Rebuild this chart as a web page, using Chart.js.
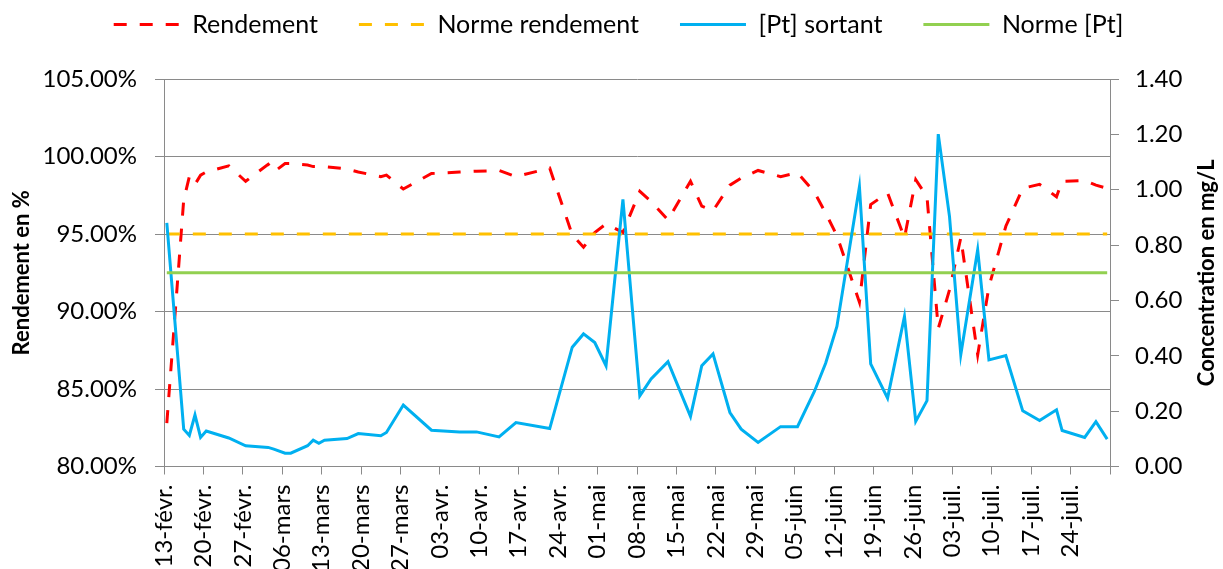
<!DOCTYPE html>
<html>
<head>
<meta charset="utf-8">
<script src="https://cdn.jsdelivr.net/npm/chart.js@4.4.1/dist/chart.umd.min.js"></script>
<style>
  html, body { margin: 0; padding: 0; background: #fff; }
  #wrap { position: relative; width: 1223px; height: 569px; overflow: hidden; }
  #chart { position: absolute; left: 0; top: -29px; }
</style>
</head>
<body>
<div id="wrap"><canvas id="chart" width="1223" height="598"></canvas></div>
<script>
// sample dates (dd/mm) and measurements
const dates = [
  "13/02", "16/02", "17/02", "18/02", "19/02", "20/02", "24/02", "27/02",
  "03/03", "04/03", "06/03", "07/03", "10/03", "11/03", "12/03", "13/03",
  "17/03", "19/03", "23/03", "24/03", "27/03", "01/04", "06/04", "09/04",
  "13/04", "16/04", "22/04", "26/04", "28/04", "30/04", "02/05", "05/05",
  "08/05", "10/05", "13/05", "17/05", "19/05", "21/05", "24/05", "26/05",
  "29/05", "02/06", "05/06", "08/06", "10/06", "12/06", "16/06", "18/06",
  "21/06", "24/06", "26/06", "28/06", "30/06", "02/07", "04/07", "07/07",
  "09/07", "12/07", "15/07", "18/07", "21/07", "22/07", "26/07", "28/07",
  "30/07"
];
const rendement = [
  82.8, 97.2, 98.7, 98.2, 98.8, 99.0, 99.4, 98.4,
  99.5, 99.0, 99.55, 99.55, 99.45, 99.35, 99.35, 99.35,
  99.2, 99.0, 98.7, 98.8, 97.9, 98.9, 99.0, 99.05,
  99.1, 98.7, 99.25, 94.95, 94.15, 95.1, 95.65, 95.1,
  97.75, 97.1, 95.9, 98.4, 96.8, 96.5, 98.15, 98.6,
  99.1, 98.7, 98.95, 97.7, 96.35, 94.9, 90.6, 96.9,
  97.65, 94.75, 98.5, 97.4, 88.9, 91.4, 94.75, 87.2,
  91.6, 95.5, 97.95, 98.2, 97.4, 98.4, 98.45, 98.15,
  97.95
];
const ptSortant = [
  0.880, 0.135, 0.112, 0.186, 0.105, 0.128, 0.103, 0.075,
  0.069, 0.063, 0.048, 0.048, 0.075, 0.095, 0.084, 0.095,
  0.101, 0.119, 0.111, 0.123, 0.222, 0.131, 0.125, 0.125,
  0.107, 0.159, 0.137, 0.431, 0.479, 0.448, 0.364, 0.965,
  0.255, 0.316, 0.379, 0.181, 0.364, 0.407, 0.195, 0.135,
  0.087, 0.144, 0.144, 0.271, 0.373, 0.506, 1.011, 0.371,
  0.247, 0.542, 0.163, 0.238, 1.201, 0.903, 0.404, 0.783,
  0.385, 0.401, 0.201, 0.166, 0.205, 0.130, 0.105, 0.162,
  0.099
];
const normeRendement = 95;
const normePt = 0.7;

const tickLabels = [
  "13-févr.", "20-févr.", "27-févr.", "06-mars", "13-mars", "20-mars", "27-mars",
  "03-avr.", "10-avr.", "17-avr.", "24-avr.", "01-mai", "08-mai", "15-mai",
  "22-mai", "29-mai", "05-juin", "12-juin", "19-juin", "26-juin", "03-juil.",
  "10-juil.", "17-juil.", "24-juil."
];
const leftTitle = "Rendement en %";
const rightTitle = "Concentration en mg/L";

// days since 13 Feb, points sit in the middle of their day
function dayIndex(s) {
  const [d, m] = s.split("/").map(Number);
  return (Date.UTC(2017, m - 1, d) - Date.UTC(2017, 1, 13)) / 86400000;
}
const xs = dates.map(d => dayIndex(d) + 0.5);
const first = xs[0], last = xs[xs.length - 1];

const grey = "#8a8a8a";
Chart.defaults.font.family = "Lato";
Chart.defaults.font.size = 24;
Chart.defaults.color = "#000";

// both axis titles read bottom to top
const axisTitles = {
  id: "axisTitles",
  afterDraw(chart) {
    const { y, y1 } = chart.scales;
    const ctx = chart.ctx;
    const mid = (y.top + y.bottom) / 2;
    ctx.save();
    ctx.font = "bold 22px Lato";
    ctx.fillStyle = "#000";
    ctx.textAlign = "center";
    ctx.textBaseline = "middle";
    [[22, leftTitle], [y1.right - 16, rightTitle]].forEach(([x, text]) => {
      ctx.save();
      ctx.translate(x, mid);
      ctx.rotate(-Math.PI / 2);
      ctx.fillText(text, 0, 0);
      ctx.restore();
    });
    ctx.restore();
  }
};

new Chart(document.getElementById("chart"), {
  type: "line",
  data: {
    datasets: [
      {
        label: "Rendement",
        data: xs.map((x, i) => ({ x, y: rendement[i] })),
        yAxisID: "y",
        borderColor: "#ff0000",
        borderWidth: 3,
        borderDash: [13, 13],
        order: 4
      },
      {
        label: "Norme rendement",
        data: [{ x: first, y: normeRendement }, { x: last, y: normeRendement }],
        yAxisID: "y",
        borderColor: "#ffc000",
        borderWidth: 3,
        borderDash: [13, 13],
        order: 3
      },
      {
        label: "[Pt] sortant",
        data: xs.map((x, i) => ({ x, y: ptSortant[i] })),
        yAxisID: "y1",
        borderColor: "#00b0f0",
        borderWidth: 3,
        order: 2
      },
      {
        label: "Norme [Pt]",
        data: [{ x: first, y: normePt }, { x: last, y: normePt }],
        yAxisID: "y1",
        borderColor: "#92d050",
        borderWidth: 3,
        order: 1
      }
    ]
  },
  options: {
    responsive: false,
    animation: false,
    layout: { padding: { left: 14 } },
    elements: { point: { radius: 0 }, line: { tension: 0 } },
    plugins: {
      tooltip: { enabled: false },
      // empty title used as a gap between legend and plot
      title: { display: true, text: "", weight: 500, font: { size: 10, lineHeight: 1 }, padding: { top: 0, bottom: 22 } },
      legend: {
        labels: {
          font: { size: 25 },
          usePointStyle: true,
          pointStyle: "line",
          pointStyleWidth: 66,
          padding: 41,
          sort: (a, b) => a.datasetIndex - b.datasetIndex,
          generateLabels: chart => Chart.defaults.plugins.legend.labels.generateLabels(chart).map(item => {
            const ds = chart.data.datasets[item.datasetIndex];
            item.lineDash = ds.borderDash || [];
            item.strokeStyle = ds.borderColor;
            item.lineWidth = ds.borderWidth;
            return item;
          })
        }
      }
    },
    scales: {
      x: {
        type: "linear",
        min: 0,
        max: 168,
        afterFit: s => { s.height = 102.5; },
        grid: { drawOnChartArea: false, color: grey, tickLength: 8 },
        border: { color: grey },
        ticks: {
          stepSize: 7,
          autoSkip: false,
          minRotation: 90,
          maxRotation: 90,
          padding: 10,
          callback: (v, i) => tickLabels[i] || ""
        }
      },
      y: {
        position: "left",
        min: 80,
        max: 105,
        afterFit: s => { s.width = 150; },
        grid: { color: grey, tickLength: 9 },
        border: { color: grey },
        ticks: { stepSize: 5, padding: 18, callback: v => v.toFixed(2) + "%" }
      },
      y1: {
        position: "right",
        min: 0,
        max: 1.4,
        afterFit: s => { s.width = 113; },
        grid: { drawOnChartArea: false, color: grey, tickLength: 9 },
        border: { color: grey },
        ticks: { stepSize: 0.2, padding: 16, callback: v => v.toFixed(2) }
      }
    }
  },
  plugins: [axisTitles]
});
</script>
</body>
</html>
